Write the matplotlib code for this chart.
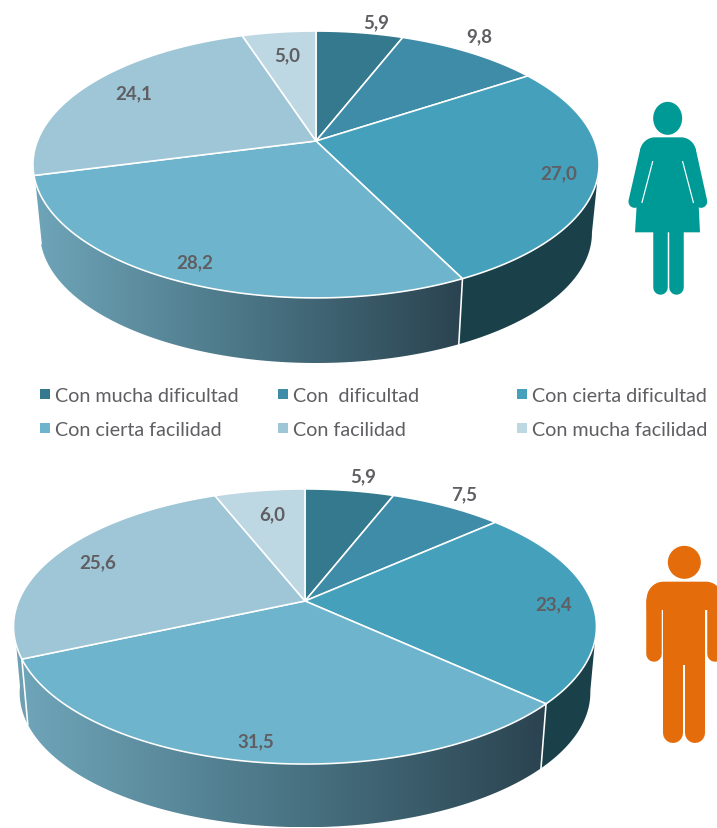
import numpy as np
import matplotlib
matplotlib.use('Agg')
import matplotlib.pyplot as plt
from matplotlib.colors import LinearSegmentedColormap
from matplotlib.patches import Ellipse, Polygon, Rectangle

plt.rcParams['font.family'] = ['Lato', 'DejaVu Sans']

labels = ['Con mucha dificultad', 'Con  dificultad', 'Con cierta dificultad',
          'Con cierta facilidad', 'Con facilidad', 'Con mucha facilidad']
mujeres = [5.9, 9.8, 27.0, 28.2, 24.1, 5.0]
hombres = [5.9, 7.5, 23.4, 31.5, 25.6, 6.0]
colors = ['#35798f', '#3f8ca8', '#45a0bb', '#6eb4cc', '#9fc6d7', '#bdd8e2']

text_color = '#5f5f63'
side_dark = '#1a4049'
side_cmap = LinearSegmentedColormap.from_list('side', ['#6fa5b9', '#4a7585', '#2b4350'])

px = 72 / 100  # one pixel in points

fig = plt.figure(figsize=(7.17, 8.29), dpi=100)
ax = fig.add_axes([0, 0, 1, 1])


def rim(deg, cx, cy, a, b, k, s=1.0, dy=0.0):
    # circle seen in perspective, deg clockwise from the top
    t = np.radians(deg)
    u, v = np.sin(t), -np.cos(t)
    w = 1 - k * v
    return np.column_stack([cx + s * a * u / w, cy + dy + s * b * v / w])


def arc(d0, d1):
    return np.linspace(d0, d1, max(int(abs(d1 - d0)) * 2, 2))


def draw_pie(values, cx, cy, a, b, k, s, dy, lab_pos):
    edges = np.concatenate([[0], np.cumsum(values)]) / np.sum(values) * 360
    top = dict(cx=cx, cy=cy, a=a, b=b, k=k)

    # side wall, right part plain and front part with the gradient
    d_front, d_left = edges[3], edges[5]
    right = np.vstack([rim(arc(100, d_front), **top),
                       rim(arc(d_front, 100), s=s, dy=dy, **top)])
    ax.add_patch(Polygon(right, fc=side_dark, ec='none', zorder=1))

    front = np.vstack([rim(arc(d_front, edges[4]), **top),
                       rim(arc(edges[4], d_front), s=s, dy=dy, **top)])
    clip = Polygon(front, fc='none', ec='none', zorder=1)
    ax.add_patch(clip)
    x0, x1 = front[:, 0].min(), front[:, 0].max()
    y0, y1 = front[:, 1].min(), front[:, 1].max()
    im = ax.imshow(np.linspace(0, 1, 256).reshape(1, -1), cmap=side_cmap, aspect='auto',
                   extent=[x0, x1, y1, y0], zorder=1)
    im.set_clip_path(clip)

    # sliver of the next slice on the far left
    sliver = np.vstack([rim(arc(edges[4], 262), **top),
                        rim(arc(262, edges[4]), s=s, dy=dy, **top)])
    ax.add_patch(Polygon(sliver, fc='#6f9fb2', ec='none', zorder=1))

    for d in [d_front, edges[4]]:
        ax.plot(*np.vstack([rim(d, **top), rim(d, s=s, dy=dy, **top)]).T,
                color='white', lw=1.6 * px, zorder=2)

    # top face
    for i, c in enumerate(colors):
        pts = np.vstack([[cx, cy], rim(arc(edges[i], edges[i + 1]), **top)])
        ax.add_patch(Polygon(pts, closed=True, fc=c, ec='white', lw=1.6 * px,
                             joinstyle='round', zorder=3))

    for v, (x, y) in zip(values, lab_pos):
        ax.text(x, y, f'{v:.1f}'.replace('.', ','), color=text_color, fontsize=13.5,
                fontweight='bold', ha='center', va='center', zorder=5)


pos_m = [(376, 23), (479, 37), (559, 174), (195, 263), (134, 94), (287, 56)]
pos_h = [(363, 477), (464, 495), (554, 605), (256, 742), (98, 563), (272, 515)]

draw_pie(mujeres, 316, 142, 278.6, 129.3, 0.176, 0.975, 69, pos_m)
draw_pie(hombres, 305, 602, 286.4, 132.8, 0.1855, 0.979, 66.6, pos_h)

# legend
leg_x = [45, 283, 522]
leg_y = [396, 430]
for i, (lab, c) in enumerate(zip(labels, colors)):
    x, y = leg_x[i % 3], leg_y[i // 3]
    ax.add_patch(Rectangle((x - 5, y - 6), 10, 10, fc=c, ec='none', zorder=3))
    ax.text(x + 10, y, lab, color=text_color, fontsize=14.2, ha='left', va='center')


def limb(xs, ys, width, color):
    ax.plot(xs, ys, color=color, lw=width * px, solid_capstyle='round', zorder=3)


# woman, outline (3x, origin 620,90)
teal = '#009a96'
wx = lambda v: 620 + np.asarray(v) / 3
wy = lambda v: 90 + np.asarray(v) / 3
ax.add_patch(Ellipse((wx(143), wy(88)), 29, 33, fc=teal, ec='none', zorder=3))
t = np.radians(np.linspace(180, 270, 12))
sh_l = np.column_stack([105 + 45 * np.cos(t), 190 + 45 * np.sin(t)])
sh_r = np.column_stack([183 - 45 * np.cos(t[::-1]), 190 + 45 * np.sin(t[::-1])])
dress = np.vstack([sh_l, sh_r, [[240, 430], [45, 430]]])
ax.add_patch(Polygon(np.column_stack([wx(dress[:, 0]), wy(dress[:, 1])]), fc=teal, ec='none', zorder=3))
limb(wx([79, 44]), wy([185, 338]), 12.5, teal)
limb(wx([209, 243]), wy([185, 338]), 12.5, teal)
ax.plot(wx([98, 66]), wy([218, 340]), color='white', lw=1.2 * px, zorder=4)
ax.plot(wx([188, 220]), wy([218, 340]), color='white', lw=1.2 * px, zorder=4)
limb(wx([120, 120]), wy([425, 594]), 14.5, teal)
limb(wx([168, 168]), wy([425, 594]), 14.5, teal)

# man, same idea (3x, origin 630,535)
orange = '#e46c0a'
mx = lambda v: 630 + np.asarray(v) / 3
my = lambda v: 535 + np.asarray(v) / 3
ax.add_patch(Ellipse((mx(163), my(85)), 33, 33, fc=orange, ec='none', zorder=3))
t = np.radians(np.linspace(180, 270, 12))
sh_l = np.column_stack([100 + 50 * np.cos(t), 195 + 52 * np.sin(t)])
sh_r = np.column_stack([228 - 50 * np.cos(t[::-1]), 195 + 52 * np.sin(t[::-1])])
body = np.vstack([sh_l, sh_r, [[278, 228], [50, 228]]])
ax.add_patch(Polygon(np.column_stack([mx(body[:, 0]), my(body[:, 1])]), fc=orange, ec='none', zorder=3))
ax.add_patch(Rectangle((mx(100), my(143)), 126 / 3, 250 / 3, fc=orange, ec='none', zorder=3))
limb(mx([73, 73]), my([200, 360]), 15.5, orange)
limb(mx([254, 254]), my([200, 360]), 15.5, orange)
limb(mx([130, 130]), my([380, 597]), 20, orange)
limb(mx([196, 196]), my([380, 597]), 20, orange)

ax.set_xlim(0, 717)
ax.set_ylim(829, 0)
ax.axis('off')
fig.savefig('out.png', dpi=100, facecolor='white')
